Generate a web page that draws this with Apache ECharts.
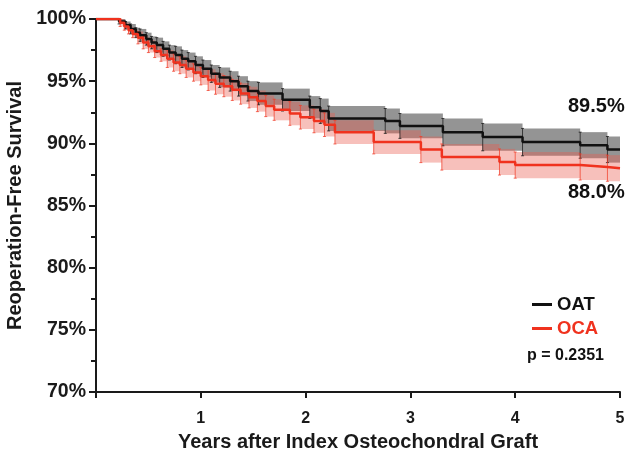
<!DOCTYPE html>
<html>
<head>
<meta charset="utf-8">
<script src="https://cdn.jsdelivr.net/npm/echarts@6/dist/echarts.min.js"></script>
<style>html,body{margin:0;padding:0;background:#fff}#c{width:627px;height:457px}</style>
</head>
<body>
<div id="c"></div>
<script>
// OAT (black) Kaplan-Meier estimate with confidence band
var oatT  = [0, 0.22, 0.28, 0.33, 0.38, 0.42, 0.48, 0.53, 0.58, 0.64, 0.70, 0.76, 0.82, 0.88, 0.95, 1.02, 1.10, 1.18, 1.28, 1.36, 1.45, 1.55, 1.78, 2.04, 2.14, 2.22, 2.76, 2.90, 3.31, 3.69, 4.07, 4.62, 4.88, 5.0];
var oatS  = [100, 99.8, 99.5, 99.2, 98.9, 98.7, 98.4, 98.1, 97.9, 97.6, 97.3, 97.1, 96.8, 96.6, 96.3, 96.0, 95.6, 95.3, 95.0, 94.6, 94.2, 94.0, 93.5, 92.9, 92.6, 92.0, 91.8, 91.4, 90.9, 90.5, 90.1, 89.85, 89.5, 89.5];
var oatLo = [100, 99.6, 99.2, 98.8, 98.5, 98.2, 97.9, 97.6, 97.3, 97.0, 96.7, 96.4, 96.1, 95.9, 95.6, 95.3, 94.9, 94.5, 94.2, 93.8, 93.4, 93.1, 92.6, 92.0, 91.6, 91.0, 90.8, 90.4, 89.8, 89.4, 89.0, 88.8, 88.45, 88.45];
var oatHi = [100, 100, 99.8, 99.6, 99.3, 99.2, 98.9, 98.6, 98.5, 98.2, 97.9, 97.8, 97.5, 97.3, 97.0, 96.7, 96.3, 96.1, 95.8, 95.4, 95.0, 94.9, 94.4, 93.8, 93.6, 93.0, 92.8, 92.4, 92.0, 91.6, 91.2, 90.9, 90.55, 90.55];

// OCA (red)
var ocaT  = [0, 0.23, 0.27, 0.31, 0.35, 0.40, 0.45, 0.50, 0.56, 0.62, 0.68, 0.74, 0.80, 0.86, 0.93, 1.00, 1.07, 1.14, 1.22, 1.30, 1.38, 1.46, 1.54, 1.62, 1.70, 1.85, 1.95, 2.08, 2.18, 2.28, 2.65, 3.10, 3.30, 3.85, 4.00, 4.62, 4.88, 5.0];
var ocaS  = [100, 99.7, 99.4, 99.1, 98.8, 98.5, 98.1, 97.8, 97.4, 97.1, 96.8, 96.5, 96.3, 96.0, 95.7, 95.4, 95.1, 94.8, 94.6, 94.3, 94.0, 93.7, 93.4, 93.0, 92.7, 92.4, 92.1, 91.8, 91.5, 90.9, 90.1, 89.5, 88.9, 88.5, 88.25, 88.1, 88.0, 88.0];
var ocaLo = [100, 99.4, 99.1, 98.8, 98.5, 98.0, 97.6, 97.3, 96.9, 96.6, 96.1, 95.8, 95.6, 95.3, 95.0, 94.7, 94.25, 93.95, 93.75, 93.45, 93.15, 92.85, 92.55, 92.15, 91.85, 91.45, 91.15, 90.85, 90.55, 89.95, 89.15, 88.45, 87.85, 87.45, 87.2, 87.05, 86.95, 86.95];
var ocaHi = [100, 100, 99.7, 99.4, 99.1, 99.0, 98.6, 98.3, 97.9, 97.6, 97.5, 97.2, 97.0, 96.7, 96.4, 96.1, 95.95, 95.65, 95.45, 95.15, 94.85, 94.55, 94.25, 93.85, 93.55, 93.35, 93.05, 92.75, 92.45, 91.85, 91.05, 90.55, 89.95, 89.55, 89.3, 89.15, 89.05, 89.05];

var xTicks = [1, 2, 3, 4, 5];
var endLabels = ['89.5%', '88.0%'];
var pText = 'p = 0.2351';

function pairs(t, v) { return t.map(function (x, i) { return [x, v[i]]; }); }
// band segments: [tStart, tEnd, lo, hi]
function segs(t, lo, hi) {
  var out = [];
  for (var i = 0; i < t.length - 1; i++) out.push([t[i], t[i + 1], lo[i], hi[i]]);
  return out;
}
function bars(t, lo, hi) { return t.map(function (x, i) { return [x, lo[i], hi[i]]; }).slice(1, t.length - 1); }

function bandRender(color) {
  return function (params, api) {
    var a = api.coord([api.value(0), api.value(3)]);
    var b = api.coord([api.value(1), api.value(2)]);
    return { type: 'rect', shape: { x: a[0], y: a[1], width: b[0] - a[0], height: b[1] - a[1] }, style: { fill: color } };
  };
}
function barRender(color) {
  return function (params, api) {
    var a = api.coord([api.value(0), api.value(1)]);
    var b = api.coord([api.value(0), api.value(2)]);
    return {
      type: 'group',
      children: [
        { type: 'line', shape: { x1: a[0], y1: a[1], x2: b[0], y2: b[1] }, style: { stroke: color, lineWidth: 1 } },
        { type: 'line', shape: { x1: a[0] - 1.5, y1: a[1], x2: a[0] + 1.5, y2: a[1] }, style: { stroke: color, lineWidth: 1 } },
        { type: 'line', shape: { x1: b[0] - 1.5, y1: b[1], x2: b[0] + 1.5, y2: b[1] }, style: { stroke: color, lineWidth: 1 } }
      ]
    };
  };
}

var chart = echarts.init(document.getElementById('c'), null, { renderer: 'canvas' });
var FONT = 'Liberation Sans, Arial, Helvetica, sans-serif';
var option = {
  animation: false,
  textStyle: { fontFamily: FONT },
  grid: { left: 96, right: 7, top: 19, bottom: 65, containLabel: false, outerBoundsMode: 'none' },
  xAxis: {
    type: 'value', min: 0, max: 5, interval: 1,
    axisLine: { lineStyle: { color: '#1a1a1a', width: 2 } },
    axisTick: { length: 6, lineStyle: { color: '#1a1a1a', width: 2 } },
    splitLine: { show: false },
    axisLabel: {
      margin: 19, fontSize: 16, fontWeight: 'bold', color: '#1a1a1a', fontFamily: FONT,
      formatter: function (v) { return xTicks.indexOf(v) >= 0 ? String(v) : ''; }
    },
    name: 'Years after Index Osteochondral Graft', nameLocation: 'middle', nameGap: 40,
    nameTextStyle: { fontSize: 20, fontWeight: 'bold', color: '#1a1a1a', fontFamily: FONT }
  },
  yAxis: {
    type: 'value', min: 70, max: 100, interval: 5,
    axisLine: { show: true, lineStyle: { color: '#1a1a1a', width: 2 } },
    axisTick: { show: true, length: 7, lineStyle: { color: '#1a1a1a', width: 2 } },
    minorTick: { show: true, splitNumber: 2, length: 5, lineStyle: { color: '#1a1a1a', width: 2 } },
    splitLine: { show: false },
    axisLabel: { margin: 10, fontSize: 19.5, fontWeight: 'bold', color: '#1a1a1a', fontFamily: FONT, formatter: '{value}%' },
    name: 'Reoperation-Free Survival', nameLocation: 'middle', nameGap: 57, nameRotate: 90,
    nameTextStyle: { fontSize: 20, fontWeight: 'bold', color: '#1a1a1a', fontFamily: FONT }
  },
  legend: {
    data: [
      { name: 'OAT', textStyle: { color: '#111' } },
      { name: 'OCA', textStyle: { color: '#f0321e' } }
    ],
    orient: 'vertical', left: 527, top: 290, itemWidth: 20, itemHeight: 3, itemGap: 5,
    icon: 'rect', selectedMode: false,
    textStyle: { fontSize: 18.5, fontWeight: 'bold', fontFamily: FONT }
  },
  graphic: [
    { type: 'text', left: 568, top: 96, style: { text: endLabels[0], fontSize: 20, fontWeight: 'bold', fill: '#111', fontFamily: FONT } },
    { type: 'text', left: 568, top: 182, style: { text: endLabels[1], fontSize: 20, fontWeight: 'bold', fill: '#111', fontFamily: FONT } },
    { type: 'text', left: 527, top: 348, style: { text: pText, fontSize: 16, fontWeight: 'bold', fill: '#111', fontFamily: FONT } }
  ],
  series: [
    { name: 'oatBand', type: 'custom', data: segs(oatT, oatLo, oatHi), encode: { x: [0, 1], y: [2, 3] }, renderItem: bandRender('rgba(60,60,60,0.55)'), silent: true, z: 1 },
    { name: 'ocaBand', type: 'custom', data: segs(ocaT, ocaLo, ocaHi), encode: { x: [0, 1], y: [2, 3] }, renderItem: bandRender('rgba(235,90,75,0.38)'), silent: true, z: 2 },
    { name: 'oatBars', type: 'custom', data: bars(oatT, oatLo, oatHi), encode: { x: 0, y: [1, 2] }, renderItem: barRender('rgba(20,20,20,0.75)'), silent: true, z: 3 },
    { name: 'ocaBars', type: 'custom', data: bars(ocaT, ocaLo, ocaHi), encode: { x: 0, y: [1, 2] }, renderItem: barRender('rgba(240,60,40,0.75)'), silent: true, z: 3 },
    { name: 'OAT', type: 'line', step: 'end', data: pairs(oatT, oatS), showSymbol: false, lineStyle: { color: '#111', width: 2.5 }, itemStyle: { color: '#111' }, z: 5 },
    { name: 'OCA', type: 'line', step: 'end', data: pairs(ocaT, ocaS), showSymbol: false, lineStyle: { color: '#f0321e', width: 2.5 }, itemStyle: { color: '#f0321e' }, z: 6 }
  ]
};
chart.setOption(option);
</script>
</body>
</html>
